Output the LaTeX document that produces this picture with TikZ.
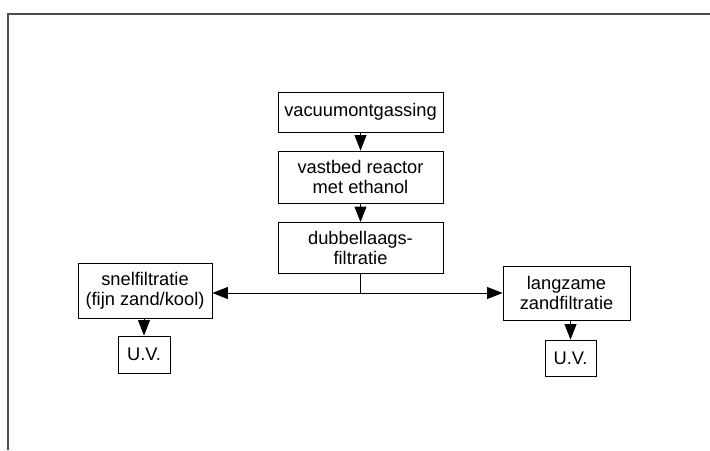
\documentclass[tikz,border=0pt]{standalone}
\usepackage{fontspec}
\setmainfont{Liberation Sans}
\usepackage{tikz}
\usetikzlibrary{arrows.meta,positioning}

\tikzset{
  stap/.style={draw,rectangle,line width=0.6pt,align=center,inner sep=2pt,
    font=\fontsize{13}{14.5}\selectfont},
  pijl/.style={-{Triangle[length=11pt,width=8.5pt]},line width=0.6pt}
}

\begin{document}
\begin{tikzpicture}[x=0.025cm,y=-0.025cm]
\useasboundingbox (0,0) rectangle (710,450);
% kader van de pagina
\draw[line width=1pt,black!70] (710,14) -- (8,14) -- (8,450);
% hoofdlijn
\node[stap,minimum width=165*0.025cm,minimum height=40*0.025cm] (vac) at (360.5,112) {vacuumontgassing};
\node[stap,minimum width=165*0.025cm,minimum height=52*0.025cm] (vast) at (360.5,177) {vastbed reactor\\met ethanol};
\node[stap,minimum width=165*0.025cm,minimum height=51*0.025cm] (dub) at (360.5,248) {dubbellaags-\\filtratie};
\coordinate (split) at (360.5,293);
% zijtakken
\node[stap,minimum width=134*0.025cm,minimum height=55*0.025cm] (snel) at (145,290.5) {snelfiltratie\\(fijn zand/kool)};
\node[stap,minimum width=52*0.025cm,minimum height=37*0.025cm] (uva) at (144,354.5) {U.V.};
\node[stap,minimum width=127*0.025cm,minimum height=54*0.025cm] (lang) at (566.5,293) {langzame\\zandfiltratie};
\node[stap,minimum width=51*0.025cm,minimum height=36*0.025cm] (uvb) at (570.5,358) {U.V.};
\draw[pijl] (vac) -- (vast);
\draw[pijl] (vast) -- (dub);
\draw[line width=0.6pt] (dub) -- (split);
\draw[pijl] (split) -- (split -| snel.east);
\draw[pijl] (split) -- (split -| lang.west);
\draw[pijl] (uva.north |- snel.south) -- (uva.north);
\draw[pijl] (uvb.north |- lang.south) -- (uvb.north);
\end{tikzpicture}
\end{document}
